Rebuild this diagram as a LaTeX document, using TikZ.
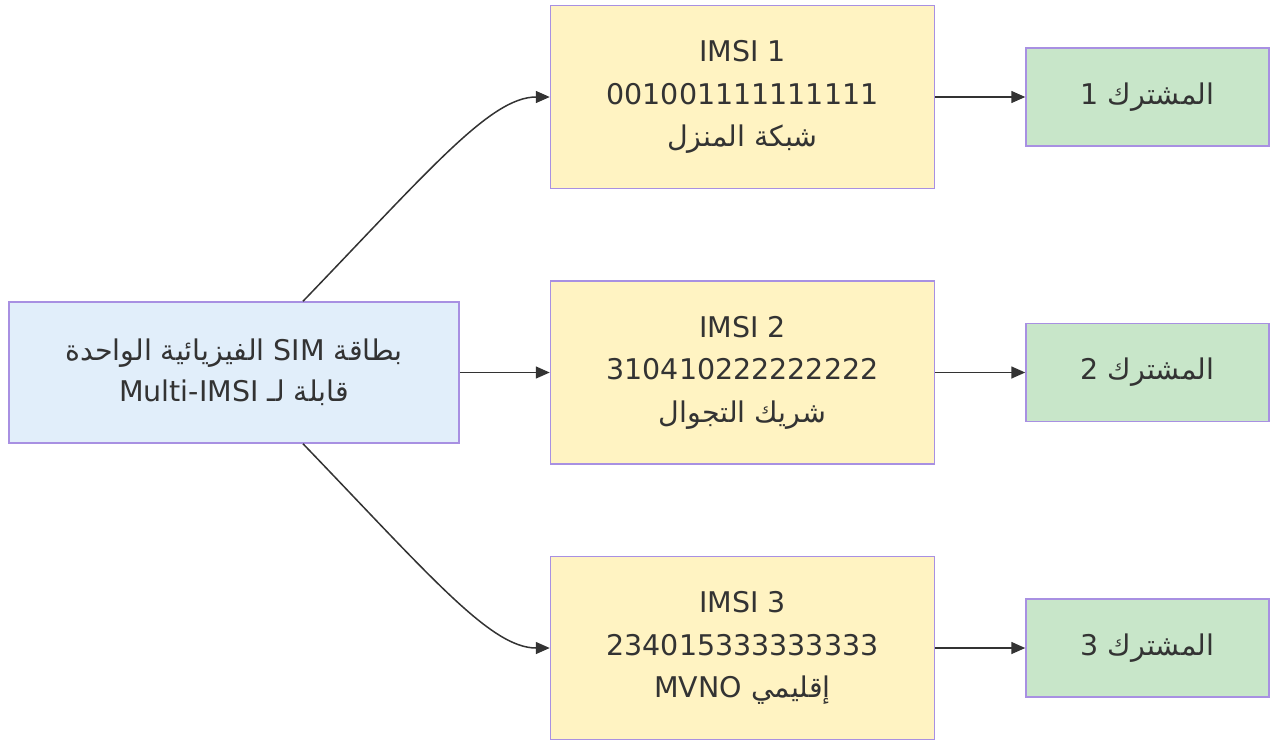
\documentclass[tikz,border=0pt]{standalone}
\usepackage{fontspec}
\setmainfont{DejaVu Sans}
\newfontfamily\arabicfont[Script=Arabic]{DejaVu Sans}
\TeXXeTstate=1
\usetikzlibrary{arrows.meta,positioning}
\definecolor{boxline}{HTML}{A890E2}
\definecolor{simfill}{HTML}{E1EEFA}
\definecolor{imsifill}{HTML}{FFF3C2}
\definecolor{subfill}{HTML}{C8E6C9}
\definecolor{inkgray}{HTML}{333333}

\begin{document}
\begin{tikzpicture}[
  x=1pt,y=-1pt,
  node distance=90pt,
  card/.style={draw=boxline,line width=1.5pt,fill=simfill,align=center,minimum width=450pt,minimum height=141pt,inner sep=0pt,text=inkgray,font=\fontsize{28.5}{41}\selectfont},
  imsi/.style={draw=boxline,line width=1.5pt,fill=imsifill,align=center,minimum width=384pt,minimum height=183pt,inner sep=0pt,text=inkgray,font=\fontsize{28.5}{42.5}\selectfont},
  sub/.style={draw=boxline,line width=1.5pt,fill=subfill,align=center,minimum width=243pt,minimum height=98pt,inner sep=0pt,text=inkgray,font=\fontsize{28.5}{42}\selectfont},
  link/.style={-{Triangle[length=14pt,width=12pt]},line width=1.5pt,inkgray}
]
  \useasboundingbox (0,0) rectangle (1273,740);
  \node[card] (sim) at (234,372.5) {\arabicfont\beginR بطاقة \beginL SIM\endL{} الفيزيائية الواحدة\endR\\\arabicfont\beginR قابلة لـ \beginL Multi-IMSI\endL\endR};
  \node[imsi,right=of sim] (imsiB) {IMSI 2\\310410222222222\\\arabicfont\beginR شريك التجوال\endR};
  \node[imsi,above=91pt of imsiB] (imsiA) {IMSI 1\\001001111111111\\\arabicfont\beginR شبكة المنزل\endR};
  \node[imsi,below=91pt of imsiB] (imsiC) {IMSI 3\\234015333333333\\\arabicfont\beginR إقليمي \beginL MVNO\endL\endR};
  \node[sub,right=of imsiA] (subA) {\arabicfont\beginR المشترك 1\endR};
  \node[sub,right=of imsiB] (subB) {\arabicfont\beginR المشترك 2\endR};
  \node[sub,right=of imsiC] (subC) {\arabicfont\beginR المشترك 3\endR};
  % card to profiles
  \draw[link] ([xshift=69pt]sim.north) .. controls +(127,-132) and +(-59,0) .. (imsiA.west);
  \draw[link] (sim) -- (imsiB);
  \draw[link] ([xshift=69pt]sim.south) .. controls +(127,132) and +(-59,0) .. (imsiC.west);
  % profiles to subscribers
  \draw[link] (imsiA) -- (subA);
  \draw[link] (imsiB) -- (subB);
  \draw[link] (imsiC) -- (subC);
\end{tikzpicture}
\end{document}
